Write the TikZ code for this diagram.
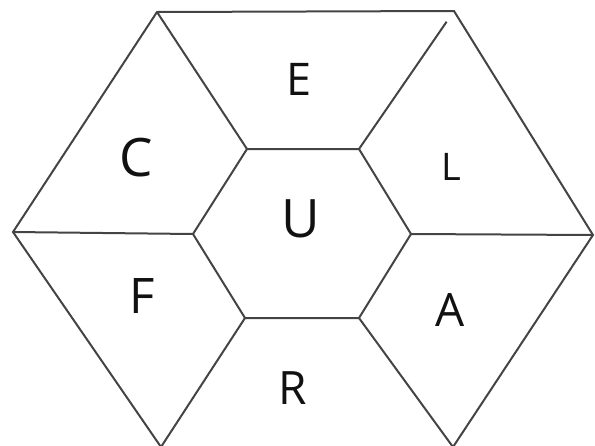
\documentclass[tikz,border=0pt]{standalone}
\usepackage{fontspec}
\setmainfont{Open Sans}
\usepackage{tikz}
\definecolor{edge}{HTML}{444444}
\definecolor{ink}{HTML}{111111}
\tikzset{
  hexline/.style={draw=edge,line width=2pt,line join=miter},
  spoke/.style={draw=edge,line width=2pt},
  cell/.style={text=ink,inner sep=0pt,anchor=center},
}

\begin{document}
\begin{tikzpicture}[x=1pt,y=-1pt]
  % page frame, 595 x 445
  \useasboundingbox (0,0) rectangle (595,445);

  % outer hexagon corners (bottom edge runs off the page)
  \coordinate (o1) at (157,12);
  \coordinate (o2) at (454,11);
  \coordinate (o3) at (593,235);
  \coordinate (o4) at (453,447);
  \coordinate (o5) at (161,447);
  \coordinate (o6) at (13,232);

  % inner hexagon corners
  \coordinate (i1) at (247,149);
  \coordinate (i2) at (359,149);
  \coordinate (i3) at (411,234);
  \coordinate (i4) at (359,318);
  \coordinate (i5) at (245,318);
  \coordinate (i6) at (193,234);

  % outer outline
  \draw[hexline] (o5) -- (o6) -- (o1) -- (o2) -- (o3) -- (o4);

  % inner hexagon
  \draw[hexline] (i1) -- (i2) -- (i3) -- (i4) -- (i5) -- (i6) -- cycle;

  % spokes between the two hexagons
  \draw[spoke] (o1) -- (i1);
  \draw[spoke,shorten <=13pt] (o2) -- (i2);
  \draw[spoke] (i3) -- (o3);
  \draw[spoke] (i4) -- (o4);
  \draw[spoke] (i5) -- (o5);
  \draw[spoke] (o6) -- (i6);

  % cell letters
  \node[cell,font=\fontsize{45}{45}\selectfont] (cE) at (299,79)  {E};
  \node[cell,font=\fontsize{53}{53}\selectfont] (cC) at (136,158) {C};
  \node[cell,font=\fontsize{38}{38}\selectfont] (cL) at (451,167) {L};
  \node[cell,font=\fontsize{53}{53}\selectfont] (cU) at (301,219) {U};
  \node[cell,font=\fontsize{49}{49}\selectfont] (cF) at (142,296) {F};
  \node[cell,font=\fontsize{46}{46}\selectfont] (cA) at (450,310) {A};
  \node[cell,font=\fontsize{46}{46}\selectfont] (cR) at (293,388) {R};
\end{tikzpicture}
\end{document}
